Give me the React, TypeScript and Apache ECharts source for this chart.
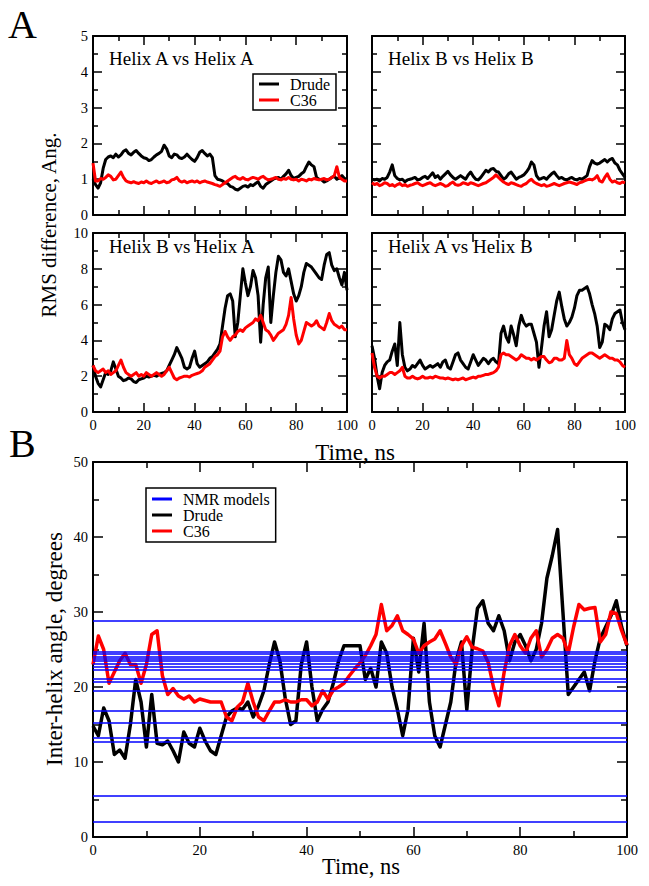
import React, { useEffect, useRef } from "react";
import * as echarts from "echarts";

const SERIF = "Liberation Serif";

const TIME_NS = [
  0, 1, 2, 3, 4, 5, 6, 7, 8, 9, 10, 11, 12, 13, 14, 15, 16, 17, 18, 19, 20,
  21, 22, 23, 24, 25, 26, 27, 28, 29, 30, 31, 32, 33, 34, 35, 36, 37, 38, 39, 40,
  41, 42, 43, 44, 45, 46, 47, 48, 49, 50, 51, 52, 53, 54, 55, 56, 57, 58, 59, 60,
  61, 62, 63, 64, 65, 66, 67, 68, 69, 70, 71, 72, 73, 74, 75, 76, 77, 78, 79, 80,
  81, 82, 83, 84, 85, 86, 87, 88, 89, 90, 91, 92, 93, 94, 95, 96, 97, 98, 99, 100,
];

const X_TICKS = [0, 20, 40, 60, 80, 100];
const RMS_TOP_TICKS = [0, 1, 2, 3, 4, 5];
const RMS_BOTTOM_TICKS = [0, 2, 4, 6, 8, 10];
const ANGLE_TICKS = [0, 10, 20, 30, 40, 50];

const PANEL_TITLES = ["Helix A vs Helix A", "Helix B vs Helix B", "Helix B vs Helix A", "Helix A vs Helix B"];

// Helix A vs Helix A
const AA_DRUDE = [
  1.0, 0.85, 0.75, 0.9, 1.3, 1.55, 1.62, 1.65, 1.6, 1.7, 1.62, 1.68, 1.78, 1.82, 1.72, 1.68, 1.75, 1.8, 1.72, 1.65, 1.6,
  1.58, 1.52, 1.55, 1.62, 1.68, 1.72, 1.78, 1.95, 1.85, 1.65, 1.6, 1.7, 1.68, 1.6, 1.58, 1.62, 1.7, 1.62, 1.55, 1.5,
  1.6, 1.75, 1.8, 1.72, 1.65, 1.7, 1.6, 1.1, 1.0, 0.98, 0.95, 0.9, 0.88, 0.8, 0.78, 0.72, 0.7, 0.75, 0.8, 0.82,
  0.78, 0.85, 0.82, 0.88, 0.93, 0.8, 0.75, 0.85, 0.9, 0.95, 1.0, 1.03, 1.05, 1.0, 1.08, 1.15, 1.25, 1.1, 1.02, 1.05,
  1.08, 1.15, 1.2, 1.35, 1.48, 1.4, 1.35, 1.05, 1.0, 0.98, 0.92, 0.95, 1.0, 1.05, 1.08, 1.0, 1.05, 1.1, 1.02, 1.0,
];
const AA_C36 = [
  1.45, 0.95, 0.95, 1.02, 1.0, 1.05, 1.12, 1.08, 0.98, 1.0, 1.1, 1.2, 1.05, 0.95, 0.92, 0.9, 0.93, 0.9, 0.88, 0.92, 0.9,
  0.95, 0.9, 0.88, 0.92, 0.95, 0.9, 0.92, 0.95, 0.9, 0.92, 0.98, 1.0, 1.05, 0.95, 0.92, 0.95, 0.9, 0.93, 0.95, 0.92,
  0.95, 0.9, 0.93, 0.95, 0.92, 0.9, 0.88, 0.85, 0.83, 0.8, 0.85, 0.9, 0.95, 1.0, 1.05, 1.08, 1.02, 1.0, 1.05, 1.0,
  0.98, 1.02, 1.05, 1.03, 1.0, 1.05, 1.08, 1.02, 0.98, 1.0, 1.02, 1.05, 1.0, 0.98, 1.02, 1.0, 1.05, 1.0, 0.98, 1.0,
  0.95, 1.0, 0.98, 0.95, 1.0, 0.98, 1.02, 1.0, 0.98, 1.0, 1.02, 0.98, 1.0, 1.05, 1.1, 1.35, 1.05, 1.0, 0.95, 0.95,
];

// Helix B vs Helix B
const BB_DRUDE = [
  1.0, 0.98, 1.0, 0.95, 1.02, 1.0, 1.05, 1.2, 1.4, 1.1, 1.02, 0.98, 1.0, 0.93, 0.98, 1.0, 1.02, 1.05, 0.98, 1.0, 1.05,
  1.08, 1.02, 1.1, 1.18, 1.05, 1.1, 1.0, 1.08, 1.15, 1.22, 1.12, 1.05, 1.0, 1.05, 1.1, 1.05, 1.0, 1.12, 1.2, 1.08,
  1.0, 0.98, 1.05, 1.15, 1.25, 1.2, 1.28, 1.3, 1.22, 1.2, 1.1, 1.0, 1.05, 1.15, 1.2, 1.1, 1.0, 1.05, 1.08, 1.12,
  1.2, 1.3, 1.48, 1.4, 1.1, 1.0, 1.02, 1.05, 1.0, 1.08, 1.15, 1.2, 1.1, 1.02, 1.05, 1.0, 0.98, 1.02, 1.05, 1.0,
  0.98, 1.02, 1.0, 1.05, 1.1, 1.35, 1.52, 1.45, 1.42, 1.45, 1.5, 1.55, 1.48, 1.55, 1.58, 1.45, 1.4, 1.25, 1.15, 1.05,
];
const BB_C36 = [
  0.9, 0.85, 0.88, 0.82, 0.85, 0.9, 0.88, 0.82, 0.85, 0.8, 0.85, 0.88, 0.82, 0.85, 0.8, 0.83, 0.85, 0.88, 0.9, 0.85, 0.82,
  0.85, 0.88, 0.9, 0.85, 0.82, 0.85, 0.88, 0.85, 0.8, 0.82, 0.88, 0.92, 0.85, 0.83, 0.85, 0.9, 0.88, 0.85, 0.9, 0.88,
  0.85, 0.82, 0.85, 0.88, 0.9, 0.95, 1.0, 1.05, 1.12, 1.05, 0.98, 0.92, 0.88, 0.85, 0.9, 0.88, 0.85, 0.82, 0.8, 0.85,
  0.88, 0.95, 1.0, 0.92, 0.88, 0.85, 0.82, 0.85, 0.8, 0.82, 0.85, 0.88, 0.85, 0.82, 0.85, 0.88, 0.9, 0.92, 0.9, 0.88,
  0.85, 0.9, 0.92, 0.95, 0.98, 1.0, 0.98, 1.02, 1.1, 0.95, 0.92, 1.05, 1.15, 1.0, 0.92, 0.95, 0.9, 0.88, 0.92, 0.9,
];

// Helix B vs Helix A
const BA_DRUDE = [
  2.6, 2.0, 1.6, 1.4, 1.8, 2.2, 2.1, 2.3, 2.8, 2.4, 2.0, 1.9, 1.75, 1.8, 1.9, 1.85, 1.7, 1.65, 1.8, 1.85, 1.9,
  2.0, 1.95, 2.0, 2.05, 2.0, 2.1, 2.15, 2.2, 2.3, 2.6, 2.9, 3.2, 3.6, 3.3, 3.0, 2.5, 2.4, 2.5, 3.0, 3.4,
  2.7, 2.5, 2.6, 2.7, 2.8, 3.0, 3.1, 3.3, 3.5, 3.8, 4.8, 5.8, 6.5, 6.6, 6.2, 4.2, 5.0, 6.5, 8.0, 7.2,
  6.5, 7.0, 7.9, 7.5, 6.5, 3.9, 6.0, 7.5, 8.1, 5.0, 6.5, 7.8, 8.7, 8.5, 7.8, 7.6, 8.0, 7.3, 6.6, 6.2,
  6.5, 7.0, 7.8, 8.3, 8.2, 8.1, 7.9, 7.7, 7.5, 7.4, 8.2, 8.8, 8.9, 8.2, 7.9, 8.0, 7.5, 7.1, 7.8, 6.8,
];
const BA_C36 = [
  2.6, 2.3, 2.2, 2.3, 2.4, 2.2, 2.3, 2.1, 2.2, 2.3, 2.6, 2.9, 2.5, 2.2, 2.1, 2.0, 2.1, 2.2, 2.0, 2.1, 2.0,
  2.2, 2.1, 2.0, 2.1, 2.2, 2.1, 2.0, 2.1, 2.3, 2.5, 2.2, 1.9, 1.8, 1.9, 1.95, 2.0, 2.0, 1.95, 2.05, 2.1,
  2.15, 2.2, 2.3, 2.5, 2.6, 2.7, 2.9, 3.1, 3.2, 3.4, 4.2, 4.5, 4.2, 4.0, 4.2, 4.3, 4.5, 4.6, 4.5, 4.7,
  4.8, 4.9, 5.0, 5.2, 5.1, 5.4, 5.0, 4.6, 4.5, 4.3, 4.0, 4.2, 4.4, 4.5, 4.6, 4.9, 5.4, 6.4, 5.2, 4.3,
  3.8, 4.0, 4.5, 5.0, 4.9, 4.8, 4.9, 5.1, 4.8, 4.7, 4.6, 5.0, 5.5, 5.1, 4.9, 4.8, 4.7, 4.8, 4.6, 4.6,
];

// Helix A vs Helix B
const AB_DRUDE = [
  3.7, 3.0, 2.0, 1.3, 2.2, 2.6, 2.8, 2.9, 3.4, 3.8, 2.6, 5.0, 3.2, 2.5, 2.3, 2.4, 2.6, 2.5, 2.7, 2.9, 2.6,
  2.4, 2.5, 2.6, 2.5, 2.6, 2.7, 2.5, 2.8, 2.9, 2.5, 2.4, 2.8, 3.2, 3.3, 2.9, 2.7, 2.5, 2.4, 2.8, 3.2,
  2.9, 2.6, 2.8, 3.0, 2.9, 2.7, 2.9, 3.0, 2.8, 2.7, 4.4, 4.8, 4.2, 3.9, 4.8, 4.3, 3.7, 4.8, 5.4, 5.0,
  4.8, 4.9, 4.9, 4.4, 3.9, 2.5, 3.6, 4.8, 5.6, 4.2, 4.6, 5.4, 6.2, 6.7, 5.9, 5.2, 4.8, 5.0, 5.3, 5.8,
  6.5, 6.8, 6.8, 6.9, 7.0, 6.6, 6.0, 5.5, 4.8, 3.6, 3.9, 4.9, 4.8, 4.6, 5.2, 5.5, 5.6, 5.7, 5.0, 4.6,
];
const AB_C36 = [
  3.3, 2.5, 2.0, 1.9, 2.0, 2.0, 2.1, 2.2, 2.2, 2.1, 2.2, 2.3, 2.5, 2.0, 1.9, 1.9, 2.0, 1.9, 1.85, 1.9, 2.0,
  1.9, 1.9, 1.95, 1.9, 2.0, 1.95, 1.9, 1.9, 1.85, 1.9, 1.85, 1.8, 1.85, 1.8, 1.85, 1.9, 1.8, 1.85, 1.9, 1.95,
  1.9, 2.0, 2.0, 2.05, 2.1, 2.1, 2.15, 2.2, 2.3, 2.5, 3.2, 3.3, 3.2, 3.2, 3.1, 3.0, 2.9, 3.0, 3.2, 3.1,
  3.0, 3.0, 2.9, 3.0, 2.9, 3.0, 3.1, 3.1, 2.9, 2.75, 2.8, 3.0, 3.0, 2.9, 2.9, 3.0, 4.0, 3.2, 3.0, 2.7,
  2.6, 2.8, 3.0, 3.1, 3.2, 3.3, 3.3, 3.2, 3.1, 3.0, 3.1, 3.2, 3.1, 3.0, 3.0, 2.9, 2.9, 2.8, 2.6, 2.5,
];

// Inter-helix angle (panel B)
const ANGLE_DRUDE = [
  14.8, 13.5, 17.2, 15.5, 11.0, 11.6, 10.5, 15.0, 21.0, 18.0, 12.0, 19.0, 12.5, 12.3, 12.8, 11.5, 10.0, 14.0, 12.5, 12.0, 14.5,
  12.8, 11.5, 11.0, 13.5, 16.0, 16.8, 17.2, 17.0, 18.0, 16.0, 17.5, 19.5, 23.0, 26.0, 23.5, 18.5, 15.0, 15.5, 23.0, 26.0,
  20.0, 15.5, 17.0, 18.0, 20.5, 23.5, 25.5, 25.5, 25.5, 25.5, 21.0, 22.5, 20.0, 26.0, 24.5, 20.0, 17.0, 13.5, 17.0, 26.5,
  22.0, 28.5, 18.0, 13.5, 12.0, 15.0, 18.0, 23.5, 26.0, 17.0, 25.0, 30.5, 31.5, 28.5, 27.5, 29.5, 27.5, 23.5, 26.0, 27.0,
  25.5, 23.5, 25.0, 28.5, 34.5, 37.5, 41.0, 30.0, 19.0, 20.0, 21.0, 22.0, 19.5, 23.5, 26.5, 28.0, 29.5, 31.5, 28.0, 25.5,
];
const ANGLE_C36 = [
  23.0, 26.8, 25.0, 20.5, 22.0, 23.5, 24.5, 23.0, 23.0, 20.5, 23.0, 27.0, 27.5, 21.5, 19.0, 19.8, 18.8, 18.4, 18.8, 18.0, 18.4,
  18.2, 18.0, 18.0, 18.0, 16.0, 15.5, 17.3, 18.0, 20.5, 18.0, 16.0, 15.5, 16.8, 18.0, 18.0, 18.3, 18.0, 18.0, 18.3, 18.3,
  17.5, 18.0, 19.5, 18.4, 19.6, 20.0, 20.5, 21.5, 22.4, 23.2, 24.2, 25.5, 27.0, 31.0, 27.5, 28.2, 29.5, 27.5, 27.0, 26.4,
  24.5, 25.5, 26.0, 26.4, 27.5, 25.8, 24.0, 23.0, 25.5, 26.7, 25.3, 25.1, 24.8, 23.3, 20.0, 17.5, 22.0, 25.5, 27.0, 25.5,
  24.5, 26.5, 27.5, 24.0, 25.0, 26.5, 27.0, 26.5, 24.5, 28.0, 31.0, 30.3, 30.5, 30.6, 26.0, 27.0, 30.0, 29.8, 27.5, 25.6,
];
const NMR_ANGLES = [28.8, 24.7, 24.45, 24.1, 23.75, 23.45, 23.1, 22.75, 22.35, 21.05, 20.75, 19.5, 16.8, 15.25, 13.2, 12.75, 5.45, 2.1];

const GRIDS = [
  { left: 93, top: 36, width: 254, height: 179 },
  { left: 372, top: 36, width: 253, height: 179 },
  { left: 93, top: 233, width: 254, height: 179 },
  { left: 372, top: 233, width: 253, height: 179 },
  { left: 93, top: 462, width: 534, height: 375 },
];

function axisCommon(showLabel: boolean, ticks: number[], majorLen: number, minorLen: number) {
  return {
    type: "value",
    min: ticks[0],
    max: ticks[ticks.length - 1],
    interval: ticks[1] - ticks[0],
    axisLine: { show: true, onZero: false, lineStyle: { color: "#000", width: 2 } },
    axisTick: { show: true, inside: true, length: majorLen, lineStyle: { color: "#000", width: 1.5 } },
    minorTick: { show: true, splitNumber: 2, length: minorLen, lineStyle: { color: "#000", width: 1.5 } },
    splitLine: { show: false },
    minorSplitLine: { show: false },
    axisLabel: { show: showLabel, margin: 5, color: "#000", fontSize: 14.5, fontFamily: SERIF },
  };
}

function buildOption() {
  const xAxis: any[] = [];
  const yAxis: any[] = [];
  const yTicksPer = [RMS_TOP_TICKS, RMS_TOP_TICKS, RMS_BOTTOM_TICKS, RMS_BOTTOM_TICKS, ANGLE_TICKS];
  const xLabelPer = [false, false, true, true, true];
  const yLabelPer = [true, false, true, false, true];
  for (let g = 0; g < 5; g++) {
    const big = g === 4;
    const ml = big ? 10 : 9;
    const mn = big ? 6 : 5;
    xAxis.push({ ...axisCommon(xLabelPer[g], X_TICKS, ml, mn), gridIndex: g, position: "bottom" });
    xAxis.push({ ...axisCommon(false, X_TICKS, ml, mn), gridIndex: g, position: "top" });
    yAxis.push({ ...axisCommon(yLabelPer[g], yTicksPer[g], ml, mn), gridIndex: g, position: "left" });
    yAxis.push({ ...axisCommon(false, yTicksPer[g], ml, mn), gridIndex: g, position: "right" });
  }

  const mk = (name: string, color: string, arr: number[], g: number, width: number, z: number) => ({
    type: "line",
    name,
    xAxisIndex: 2 * g,
    yAxisIndex: 2 * g,
    data: TIME_NS.map((t, i) => [t, arr[i]]),
    showSymbol: false,
    symbol: "none",
    lineStyle: { color, width, join: "round" },
    itemStyle: { color },
    z,
    silent: true,
  });

  const series: any[] = [
    mk("Drude", "#000000", AA_DRUDE, 0, 3, 2),
    mk("C36", "#ff0000", AA_C36, 0, 3, 3),
    mk("Drude", "#000000", BB_DRUDE, 1, 3, 2),
    mk("C36", "#ff0000", BB_C36, 1, 3, 3),
    mk("Drude", "#000000", BA_DRUDE, 2, 3, 2),
    mk("C36", "#ff0000", BA_C36, 2, 3, 3),
    mk("Drude", "#000000", AB_DRUDE, 3, 3, 2),
    mk("C36", "#ff0000", AB_C36, 3, 3, 3),
    mk("Drude", "#000000", ANGLE_DRUDE, 4, 3.5, 2),
    mk("C36", "#ff0000", ANGLE_C36, 4, 3.5, 3),
    {
      type: "line",
      name: "NMR models",
      xAxisIndex: 8,
      yAxisIndex: 8,
      data: [],
      showSymbol: false,
      lineStyle: { color: "#0000ff", width: 1.5 },
      itemStyle: { color: "#0000ff" },
      z: 4,
      markLine: {
        silent: true,
        symbol: ["none", "none"],
        label: { show: false },
        lineStyle: { color: "#0000ff", width: 1.5, type: "solid" },
        emphasis: { disabled: true },
        data: NMR_ANGLES.map((v) => ({ yAxis: v })),
      },
    },
  ];

  const legendCommon = {
    orient: "vertical",
    icon: "rect",
    itemWidth: 20,
    itemHeight: 3,
    itemGap: 0,
    selectedMode: false,
    borderColor: "#000",
    borderWidth: 1.5,
    backgroundColor: "#fff",
    textStyle: { color: "#000", fontSize: 16, fontFamily: SERIF, padding: [0, 0, 0, 6] },
  };

  const titlePos = [
    [109, 58],
    [388, 58],
    [109, 246],
    [388, 246],
  ];

  const text = (t: string, x: number, y: number, size: number, rot = 0, align = "left") => ({
    type: "text",
    x,
    y,
    rotation: rot,
    silent: true,
    style: {
      text: t,
      x: 0,
      y: 0,
      font: `${size}px "${SERIF}"`,
      fill: "#000",
      align,
      verticalAlign: "middle",
      textAlign: align,
      textVerticalAlign: "middle",
    },
  });

  const graphic = [
    text("A", 8, 24, 40),
    text("B", 9, 443, 40),
    ...PANEL_TITLES.map((t, i) => text(t, titlePos[i][0], titlePos[i][1], 19)),
    text("RMS difference, Ang.", 49, 225, 21, Math.PI / 2, "center"),
    text("Time, ns", 355, 452, 23, 0, "center"),
    text("Inter-helix angle, degrees", 54, 649, 23, Math.PI / 2, "center"),
    text("Time, ns", 361, 866, 22.5, 0, "center"),
  ];

  return {
    animation: false,
    backgroundColor: "#ffffff",
    grid: GRIDS.map((g) => ({ ...g, containLabel: false, show: false })),
    xAxis,
    yAxis,
    legend: [
      { ...legendCommon, data: ["Drude", "C36"], left: 253, top: 74, padding: [2, 6, 2, 6], z: 10 },
      { ...legendCommon, data: ["NMR models", "Drude", "C36"], left: 146, top: 488, padding: [3, 6, 3, 6], z: 10 },
    ],
    series,
    graphic,
  };
}

export default function App() {
  const ref = useRef<HTMLDivElement>(null);
  useEffect(() => {
    if (!ref.current) return;
    const chart = echarts.init(ref.current, undefined, { renderer: "svg" });
    chart.setOption(buildOption() as any);
    return () => chart.dispose();
  }, []);
  return (
    <div
      ref={ref}
      style={{ position: "absolute", left: 0, top: 0, width: 649, height: 886, background: "#fff" }}
    />
  );
}
